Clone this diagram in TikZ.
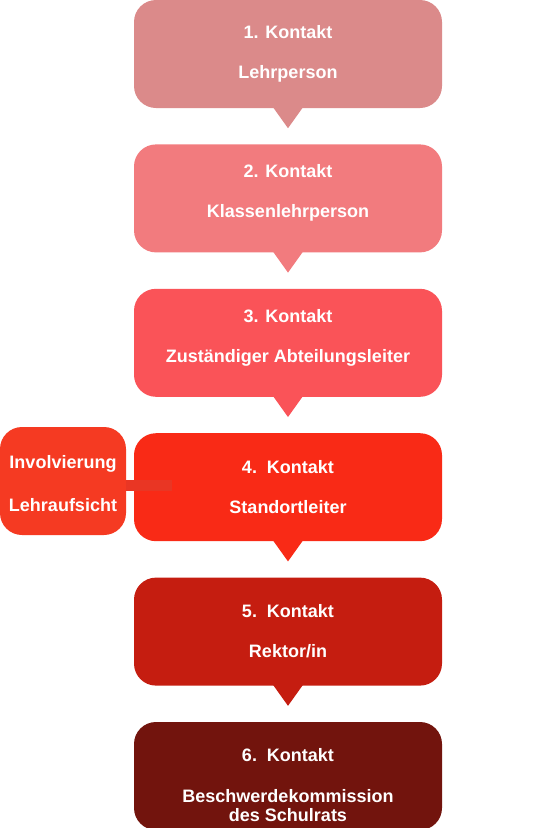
\documentclass[tikz,border=0pt]{standalone}
\usepackage{fontspec}
\setmainfont{Liberation Sans}
\usetikzlibrary{positioning}

\definecolor{kone}{HTML}{DB8A8A}
\definecolor{ktwo}{HTML}{F27B7E}
\definecolor{kthree}{HTML}{FA5358}
\definecolor{kfour}{HTML}{F92A16}
\definecolor{kfive}{HTML}{C51D10}
\definecolor{ksix}{HTML}{72140D}
\definecolor{kside}{HTML}{F53A22}
\definecolor{kbar}{HTML}{E93624}

\begin{document}
\begin{tikzpicture}[
  x=1pt, y=-1pt,
  node distance=36pt,
  box/.style={rounded corners=22pt, minimum width=308pt, minimum height=108pt, inner sep=0pt,
    align=center, text=white, font=\bfseries\fontsize{18}{22}\selectfont},
  sidebox/.style={box, minimum width=126pt, fill=kside}
]
\useasboundingbox (0,0) rectangle (541,828);

\node[box, fill=kone] (k1) at (288,54) {1. Kontakt\\[18pt]Lehrperson};
\node[box, fill=ktwo, below=of k1] (k2) {2. Kontakt\\[18pt]Klassenlehrperson\\[-8pt]\mbox{}};
\node[box, fill=kthree, below=of k2] (k3) {3. Kontakt\\[18pt]Zuständiger Abteilungsleiter\\[-8pt]\mbox{}};
\node[box, fill=kfour, below=of k3] (k4) {4.\ \ Kontakt\\[18pt]Standortleiter};
\node[box, fill=kfive, below=of k4] (k5) {5.\ \ Kontakt\\[18pt]Rektor/in};
\node[box, fill=ksix, below=of k5] (k6) {\mbox{}\\[9pt]6.\ \ Kontakt\\[19pt]Beschwerdekommission\\[-3pt]des Schulrats};

% pointers below the boxes
\foreach \k/\c in {k1/kone, k2/ktwo, k3/kthree, k4/kfour, k5/kfive}
  \fill[\c] ([xshift=-15pt, yshift=1pt]\k.south) -- ([xshift=15pt, yshift=1pt]\k.south)
    -- ([yshift=-20pt]\k.south) -- cycle;

% side box
\node[sidebox] (ls) at (63,481) {\mbox{}\\[-3pt]Involvierung\\[21pt]Lehraufsicht};
\coordinate (lend) at (172,485);
\draw[kbar, line width=11pt] (ls.east |- lend) -- (lend);
\end{tikzpicture}
\end{document}
